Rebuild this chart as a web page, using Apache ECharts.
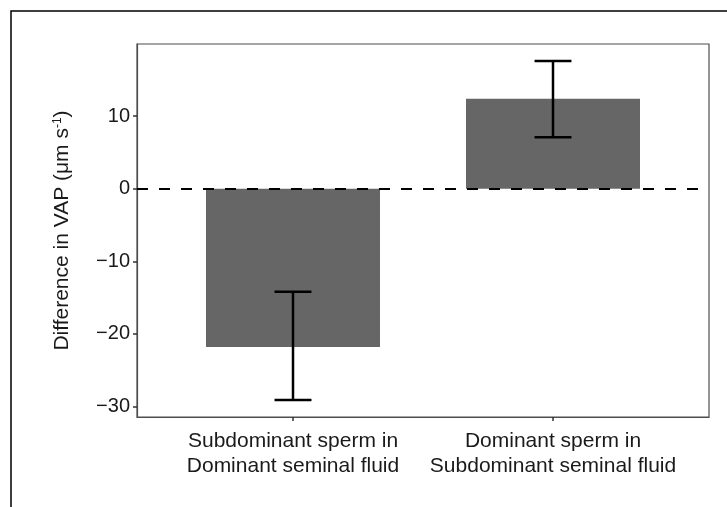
<!DOCTYPE html>
<html>
<head>
<meta charset="utf-8">
<script src="https://cdn.jsdelivr.net/npm/echarts@6/dist/echarts.min.js"></script>
<style>
  html, body { margin: 0; padding: 0; background: #fff; }
  #chart { width: 727px; height: 507px; }
</style>
</head>
<body>
<div id="chart"></div>
<script>
// groups along the x axis (positions 1 and 2)
const categories = [
  "Subdominant sperm in\nDominant seminal fluid",
  "Dominant sperm in\nSubdominant seminal fluid",
];
const positions = [1, 2];
const meanDiff = [-21.8, 12.4];
const errLower = [-29.1, 7.1];
const errUpper = [-14.2, 17.6];
const yTicks = [-30, -20, -10, 0, 10];

const chart = echarts.init(document.getElementById("chart"));

const barData = positions.map((p, i) => [p, meanDiff[i]]);
const errData = positions.map((p, i) => [p, errLower[i], errUpper[i]]);

chart.setOption({
  animation: false,
  textStyle: { fontFamily: "Liberation Sans, Arial, sans-serif" },
  graphic: [
    {
      // outer figure frame
      type: "rect",
      shape: { x: 11, y: 11, width: 900, height: 700 },
      style: { fill: "none", stroke: "#000", lineWidth: 1.5 },
      silent: true,
    },
  ],
  grid: {
    left: 137,
    right: 18,
    top: 44,
    bottom: 90,
    show: true,
    borderColor: "#4d4d4d",
    borderWidth: 1.2,
  },
  xAxis: {
    type: "value",
    min: 0.4,
    max: 2.6,
    splitLine: { show: false },
    axisLine: { show: true, onZero: false, lineStyle: { color: "#4d4d4d", width: 1.2 } },
    axisTick: {
      show: true,
      customValues: positions,
      length: 4,
      lineStyle: { color: "#333", width: 1.5 },
    },
    axisLabel: {
      customValues: positions,
      formatter: (v) => categories[positions.indexOf(v)] || "",
      color: "#1a1a1a",
      fontSize: 21,
      lineHeight: 25,
      margin: 12,
    },
  },
  yAxis: {
    type: "value",
    min: -31.45,
    max: 19.93,
    splitLine: { show: false },
    axisLine: { show: true, onZero: false, lineStyle: { color: "#4d4d4d", width: 1.2 } },
    axisTick: {
      show: true,
      customValues: yTicks,
      length: 4,
      lineStyle: { color: "#333", width: 1.5 },
    },
    axisLabel: {
      customValues: yTicks,
      formatter: (v) => String(v).replace("-", "\u2212"),
      color: "#1a1a1a",
      fontSize: 20,
      margin: 7,
    },
    name: "Difference in VAP (\u03bcm s{sup|-1})",
    nameLocation: "middle",
    nameGap: 64,
    nameTextStyle: {
      color: "#1a1a1a",
      fontSize: 21,
      rich: {
        sup: { fontSize: 12, verticalAlign: "top", padding: [0, 0, 9, 0] },
      },
    },
  },
  series: [
    {
      type: "bar",
      data: barData,
      barWidth: 174,
      itemStyle: { color: "#666666" },
      z: 2,
    },
    {
      type: "custom",
      data: errData,
      z: 4,
      encode: { x: 0, y: [1, 2] },
      renderItem: (params, api) => {
        const x = api.value(0);
        const lo = api.coord([x, api.value(1)]);
        const hi = api.coord([x, api.value(2)]);
        const half = api.size([0.071, 0])[0];
        const style = { stroke: "#000", lineWidth: 2.5 };
        return {
          type: "group",
          children: [
            { type: "line", shape: { x1: lo[0], y1: lo[1], x2: hi[0], y2: hi[1] }, style },
            { type: "line", shape: { x1: hi[0] - half, y1: hi[1], x2: hi[0] + half, y2: hi[1] }, style },
            { type: "line", shape: { x1: lo[0] - half, y1: lo[1], x2: lo[0] + half, y2: lo[1] }, style },
          ],
        };
      },
      markLine: {
        silent: true,
        symbol: "none",
        label: { show: false },
        lineStyle: { color: "#000", type: [11, 11], width: 2 },
        data: [{ yAxis: 0 }],
      },
    },
  ],
});
</script>
</body>
</html>
